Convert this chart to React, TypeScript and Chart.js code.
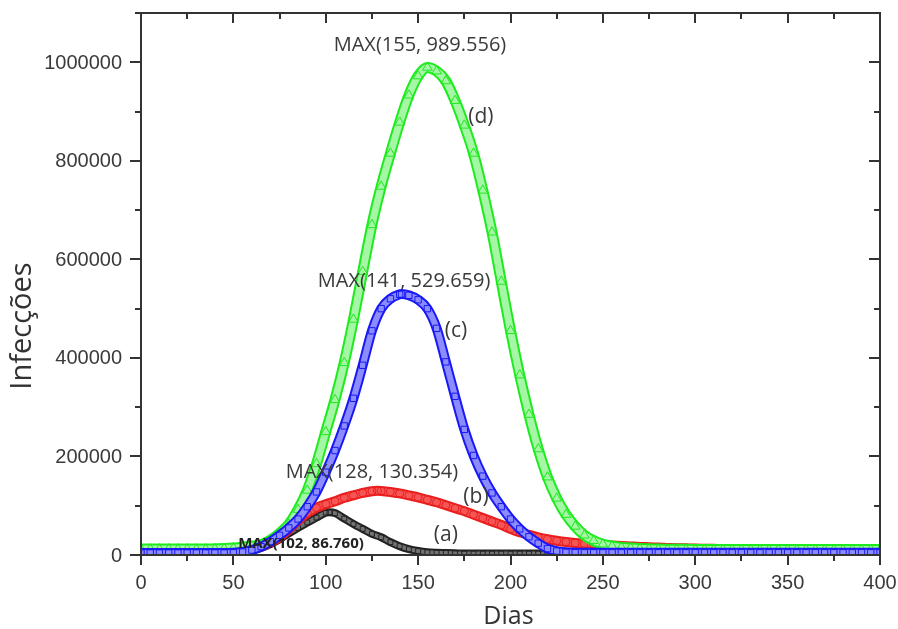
import React, { useEffect, useRef } from "react";
import { Chart, registerables } from "chart.js";

Chart.register(...registerables);

// Simulation days sampled every 5 days
const DAYS = [
  0, 5, 10, 15, 20, 25, 30, 35, 40, 45,
  50, 55, 60, 65, 70, 75, 80, 85, 90, 95,
  100, 105, 110, 115, 120, 125, 130, 135, 140, 145,
  150, 155, 160, 165, 170, 175, 180, 185, 190, 195,
  200, 205, 210, 215, 220, 225, 230, 235, 240, 245,
  250, 255, 260, 265, 270, 275, 280, 285, 290, 295,
  300, 305, 310, 315, 320, 325, 330, 335, 340, 345,
  350, 355, 360, 365, 370, 375, 380, 385, 390, 395,
  400,
];

// Scenario (a)
const INFECTED_A = [
  3000, 3000, 3000, 3000, 3000, 3000, 3000, 3000, 3000, 3000,
  3000, 3000, 8000, 14000, 22000, 32000, 44000, 55000, 66000, 76000,
  86000, 85000, 74000, 63000, 53000, 43000, 36000, 26000, 18000, 12000,
  8000, 5500, 4500, 4000, 3500, 3000, 3000, 3000, 3000, 3000,
  3000, 3000, 3000, 3000, 3000, 3000, 3000, 3000, 3000, 3000,
  3000, 3000, 3000, 3000, 3000, 3000, 3000, 3000, 3000, 3000,
  3000, 3000, 3000, 3000, 3000, 3000, 3000, 3000, 3000, 3000,
  3000, 3000, 3000, 3000, 3000, 3000, 3000, 3000, 3000, 3000,
  3000,
];

// Scenario (b)
const INFECTED_B = [
  8000, 8000, 8000, 8000, 8000, 8000, 8000, 8000, 8000, 8000,
  8000, 9000, 12000, 17000, 25000, 36000, 52000, 70000, 85000, 96000,
  103000, 109000, 116000, 121000, 126000, 129500, 130000, 128000, 125000, 121000,
  117000, 112000, 107000, 101000, 95000, 89000, 82000, 75000, 68000, 61000,
  53000, 46000, 41000, 36000, 32000, 29000, 26500, 24500, 23000, 21500,
  20500, 19500, 18500, 17500, 16500, 15800, 15000, 14400, 13900, 13500,
  13100, 12800, 12500, 12200, 12000, 11800, 11600, 11400, 11200, 11000,
  10900, 10800, 10700, 10600, 10500, 10400, 10300, 10200, 10100, 10000,
  10000,
];

// Scenario (c)
const INFECTED_C = [
  4000, 4000, 4000, 4000, 4000, 4000, 4000, 4000, 4000, 4000,
  4500, 6000, 10000, 17000, 27000, 40000, 55000, 73000, 98000, 128000,
  168000, 212000, 262000, 318000, 385000, 455000, 500000, 520000, 529000, 527000,
  518000, 500000, 460000, 392000, 322000, 255000, 202000, 160000, 126000, 98000,
  73000, 53000, 37000, 24000, 13000, 8000, 5500, 4800, 4500, 4500,
  4500, 4500, 4500, 4500, 4500, 4500, 4500, 4500, 4500, 4500,
  4500, 4500, 4500, 4500, 4500, 4500, 4500, 4500, 4500, 4500,
  4500, 4500, 4500, 4500, 4500, 4500, 4500, 4500, 4500, 4500,
  4500,
];

// Scenario (d)
const INFECTED_D = [
  12000, 12000, 12000, 12000, 12000, 12000, 12000, 12000, 12500, 13000,
  14000, 16000, 18000, 21000, 30000, 44000, 62000, 92000, 131000, 185000,
  250000, 315000, 390000, 478000, 575000, 670000, 748000, 815000, 878000, 933000,
  972000, 989556, 982000, 962000, 922000, 872000, 815000, 740000, 655000, 555000,
  455000, 365000, 285000, 215000, 158000, 115000, 82000, 58000, 40000, 29000,
  22000, 18000, 15500, 14000, 13000, 12500, 12000, 11800, 11600, 11500,
  11400, 11300, 11200, 11200, 11100, 11100, 11000, 11000, 11000, 11000,
  11000, 11000, 11000, 11000, 11000, 11000, 11000, 11000, 11000, 11000,
  11000,
];

// Peaks of each scenario: (a), (b), (c), (d)
const PEAK_DAYS = [102, 128, 141, 155];
const PEAK_VALUES = [86760, 130354, 529659, 989556];

// Axis tick labels
const X_TICKS = [0, 50, 100, 150, 200, 250, 300, 350, 400];
const Y_TICKS = [0, 200000, 400000, 600000, 800000, 1000000];

// Text notes placed in data coordinates
const NOTE_TEXTS = [
  "MAX(155, 989.556)",
  "(d)",
  "MAX(141, 529.659)",
  "(c)",
  "MAX(128, 130.354)",
  "(b)",
  "(a)",
  "MAX(102, 86.760)",
];
const NOTE_X = [151, 184, 142.4, 170.5, 125, 181.3, 165, 86.6];
const NOTE_Y = [1034000, 888500, 554600, 455400, 168000, 117400, 40500, 22300];
const NOTE_BOLD = [false, false, false, false, false, false, false, true];

function withPeak(values: number[], peakDay: number, peakValue: number) {
  const pts = DAYS.map((d, i) => ({ x: d, y: values[i] }));
  const idx = pts.findIndex((p) => p.x === peakDay);
  if (idx >= 0) pts[idx] = { x: peakDay, y: peakValue };
  else pts.push({ x: peakDay, y: peakValue });
  return pts.sort((a, b) => a.x - b.x);
}

const FRAME = "#333333";
const TEXT = "#3a3a3a";

const framePlugin = {
  id: "originFrame",
  afterDatasetsDraw(chart: any) {
    const { ctx, chartArea, scales } = chart;
    const { left, right, top, bottom } = chartArea;
    const xs = scales.x;
    const ys = scales.y;
    ctx.save();
    ctx.strokeStyle = FRAME;
    ctx.lineWidth = 2;
    ctx.strokeRect(left, top, right - left, bottom - top);

    // x ticks: bottom outward, top inward
    for (let v = 0; v <= 400; v += 25) {
      const px = Math.round(xs.getPixelForValue(v));
      const major = v % 50 === 0;
      const len = major ? 10 : 6;
      ctx.beginPath();
      ctx.moveTo(px, bottom);
      ctx.lineTo(px, bottom + len);
      ctx.moveTo(px, top);
      ctx.lineTo(px, top + len);
      ctx.stroke();
    }
    // y ticks: left outward, right inward
    for (let v = 0; v <= 1100000; v += 100000) {
      const py = Math.round(ys.getPixelForValue(v));
      const major = v % 200000 === 0;
      const len = major ? 11 : 6;
      ctx.beginPath();
      ctx.moveTo(left - len, py);
      ctx.lineTo(left, py);
      ctx.moveTo(right - len, py);
      ctx.lineTo(right, py);
      ctx.stroke();
    }

    // tick labels
    ctx.fillStyle = TEXT;
    ctx.font = "20px 'Liberation Sans', Arial";
    ctx.textAlign = "center";
    ctx.textBaseline = "middle";
    X_TICKS.forEach((v) => {
      ctx.fillText(String(v), xs.getPixelForValue(v), bottom + 28);
    });
    ctx.textAlign = "right";
    Y_TICKS.forEach((v) => {
      ctx.fillText(String(v), left - 19, ys.getPixelForValue(v) + 1);
    });

    // notes
    ctx.textAlign = "center";
    ctx.textBaseline = "middle";
    NOTE_TEXTS.forEach((t, i) => {
      ctx.fillStyle = NOTE_BOLD[i] ? "#222222" : TEXT;
      ctx.font = NOTE_BOLD[i]
        ? "bold 15px 'Open Sans'"
        : t.startsWith("(")
        ? "21px 'Open Sans'"
        : "20px 'Open Sans'";
      ctx.fillText(t, xs.getPixelForValue(NOTE_X[i]), ys.getPixelForValue(NOTE_Y[i]));
    });

    // axis titles
    ctx.fillStyle = "#333333";
    ctx.font = "25px 'Open Sans'";
    ctx.fillText("Dias", (left + right) / 2 - 2, bottom + 62);
    ctx.save();
    ctx.translate(23, 326);
    ctx.rotate(-Math.PI / 2);
    ctx.font = "29px 'Open Sans'";
    ctx.fillText("Infecções", 0, 0);
    ctx.restore();

    ctx.restore();
  },
};

export default function App() {
  const ref = useRef<HTMLCanvasElement | null>(null);

  useEffect(() => {
    document.body.style.margin = "0";
    const canvas = ref.current;
    if (!canvas) return;

    // front to back: (c), (d), (b), (a)
    const series = [
      {
        label: "(c)",
        data: withPeak(INFECTED_C, PEAK_DAYS[2], PEAK_VALUES[2]),
        edge: "rgb(25,25,245)",
        fillBand: "rgb(140,140,255)",
        width: 10,
        style: "rect",
        radius: 4.5,
      },
      {
        label: "(d)",
        data: withPeak(INFECTED_D, PEAK_DAYS[3], PEAK_VALUES[3]),
        edge: "rgb(30,235,30)",
        fillBand: "rgb(165,246,165)",
        width: 11,
        style: "triangle",
        radius: 5.5,
      },
      {
        label: "(b)",
        data: withPeak(INFECTED_B, PEAK_DAYS[1], PEAK_VALUES[1]),
        edge: "rgb(235,30,30)",
        fillBand: "rgb(246,85,85)",
        width: 10,
        style: "circle",
        radius: 4,
      },
      {
        label: "(a)",
        data: withPeak(INFECTED_A, PEAK_DAYS[0], PEAK_VALUES[0]),
        edge: "rgb(35,35,35)",
        fillBand: "rgb(115,115,115)",
        width: 8,
        style: "rect",
        radius: 3.5,
      },
    ];

    const datasets: any[] = [];
    series.forEach((s) => {
      // inner light band with open markers
      datasets.push({
        label: s.label,
        data: s.data,
        borderColor: s.fillBand,
        borderWidth: s.width - 4,
        cubicInterpolationMode: "monotone",
        pointStyle: s.style,
        pointRadius: s.radius,
        pointBorderWidth: 1,
        pointBorderColor: s.edge,
        pointBackgroundColor: "rgba(255,255,255,0)",
        fill: false,
      });
      // darker outline of the band
      datasets.push({
        label: s.label + " edge",
        data: s.data,
        borderColor: s.edge,
        borderWidth: s.width,
        cubicInterpolationMode: "monotone",
        pointRadius: 0,
        fill: false,
      });
    });

    const chart = new Chart(canvas, {
      type: "line",
      data: { datasets },
      options: {
        responsive: false,
        animation: false,
        layout: { padding: { left: 0, right: 18, top: 13, bottom: 0 } },
        plugins: {
          legend: { display: false },
          tooltip: { enabled: false },
        },
        scales: {
          x: {
            type: "linear",
            min: 0,
            max: 400,
            afterFit: (s: any) => {
              s.height = 74;
            },
            grid: { display: false, drawTicks: false },
            border: { display: false },
            ticks: { display: false },
          },
          y: {
            type: "linear",
            min: 0,
            max: 1100000,
            afterFit: (s: any) => {
              s.width = 141;
            },
            grid: { display: false, drawTicks: false },
            border: { display: false },
            ticks: { display: false },
          },
        },
      },
      plugins: [framePlugin],
    } as any);

    return () => chart.destroy();
  }, []);

  return (
    <div style={{ width: 898, height: 629, background: "#ffffff" }}>
      <canvas ref={ref} width={898} height={629} />
    </div>
  );
}
